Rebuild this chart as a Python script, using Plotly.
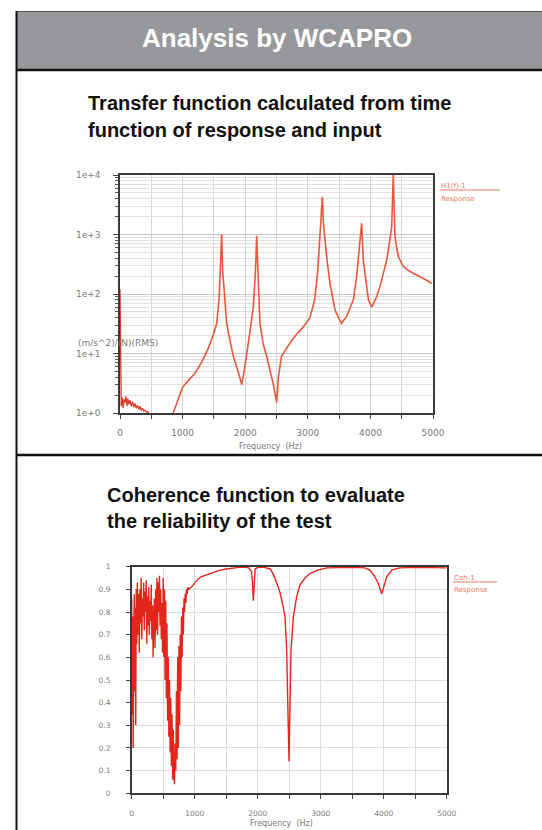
import plotly.graph_objects as go

W, H = 542, 830

# ---------------- data ----------------
header_title = "Analysis by WCAPRO"
section1_lines = ["Transfer function calculated from time", "function of response and input"]
section2_lines = ["Coherence function to evaluate", "the reliability of the test"]

freq_ticks = [0, 1000, 2000, 3000, 4000, 5000]
freq_ticklabels = ["0", "1000", "2000", "3000", "4000", "5000"]

tf_yticks = [1, 10, 100, 1000, 10000]
tf_yticklabels = ["1e+0", "1e+1", "1e+2", "1e+3", "1e+4"]
tf_unit = "(m/s^2)/(N)(RMS)"
tf_legend = ["H1(f)-1", "Response"]

# low-frequency noisy part of transfer function
tf_noise_freq = [0, 8, 20, 35, 50, 65, 80, 95, 110, 125, 140, 160, 180, 200, 220, 240,
                 260, 280, 300, 320, 340, 360, 380, 400, 420, 440, 460]
tf_noise_mag = [120, 1.6, 1.3, 1.8, 1.2, 1.7, 1.5, 1.9, 1.3, 1.75, 1.4, 1.65, 1.3, 1.55, 1.25, 1.45,
                1.2, 1.35, 1.15, 1.3, 1.1, 1.2, 1.08, 1.12, 1.04, 1.05, 1.0]

# main transfer function curve
tf_freq = [850, 900, 1000, 1100, 1200, 1300, 1400, 1480, 1545, 1585, 1605, 1624, 1640, 1670,
           1704, 1760, 1810, 1900, 1944, 1990, 2023, 2080, 2130, 2165, 2183, 2200, 2236, 2290,
           2343, 2400, 2450, 2503, 2530, 2580, 2650, 2716, 2820, 2929, 3035, 3110, 3160, 3200,
           3232, 3250, 3275, 3310, 3355, 3435, 3490, 3540, 3580, 3621, 3680, 3728, 3780, 3834,
           3860, 3887, 3940, 3968, 4020, 4060, 4101, 4153, 4210, 4260, 4310, 4340, 4366, 4380,
           4393, 4420, 4446, 4526, 4600, 4686, 4780, 4846, 4920, 4980]
tf_mag = [1.0, 1.4, 2.7, 3.6, 4.7, 7.0, 11.5, 19, 32, 90, 300, 1000, 250, 80,
          32, 16, 9, 4.5, 3.0, 5.5, 9, 25, 61, 250, 950, 250, 32, 14,
          9, 5, 3, 1.5, 4, 9, 12, 15, 21, 28, 40, 80, 250, 1000,
          4300, 1500, 720, 350, 150, 54, 40, 32, 37, 42, 60, 80, 195, 920,
          1550, 370, 117, 80, 60, 72, 90, 133, 220, 370, 800, 1350, 10000, 3000,
          920, 600, 425, 290, 250, 223, 200, 185, 165, 150]

coh_yticks = [0, 0.1, 0.2, 0.3, 0.4, 0.5, 0.6, 0.7, 0.8, 0.9, 1]
coh_yticklabels = ["0", "0.1", "0.2", "0.3", "0.4", "0.5", "0.6", "0.7", "0.8", "0.9", "1"]
coh_legend = ["Coh-1", "Response"]

coh_freq = [0, 8, 16, 24, 32, 40, 48, 56, 64, 72, 80,
            90, 100, 110, 120, 130, 140, 150, 160, 170, 180,
            190, 200, 210, 220, 230, 240, 250, 260, 270, 280,
            290, 300, 310, 320, 330, 340, 350, 360, 370, 380,
            390, 400, 410, 420, 430, 440, 450, 460, 470, 480,
            490, 500, 510, 520, 530, 540, 550, 560, 570, 580,
            590, 600, 610, 620, 630, 640, 650, 660, 670, 680,
            690, 700, 710, 720, 730, 740, 750, 760, 770, 780,
            790, 800, 810, 820, 830, 840, 850, 860, 870, 880, 890, 900,
            950, 1000, 1050, 1100, 1200, 1300, 1400, 1500, 1600, 1700, 1800, 1860,
            1900, 1915, 1930, 1945, 1960, 2000, 2100, 2200, 2250, 2300, 2350, 2400,
            2433, 2460, 2480, 2497, 2510, 2529, 2566, 2620, 2672, 2750, 2830, 2950,
            3100, 3300, 3500, 3700, 3783, 3850, 3900, 3940, 3968, 4000, 4048, 4127,
            4250, 4500, 4800, 5000]
coh_val = [0.86, 0.35, 0.78, 0.2, 0.62, 0.88, 0.45, 0.82, 0.3, 0.9, 0.66,
           0.93, 0.7, 0.88, 0.62, 0.9, 0.75, 0.95, 0.68, 0.86, 0.78,
           0.93, 0.72, 0.89, 0.8, 0.94, 0.66, 0.87, 0.74, 0.91, 0.7,
           0.85, 0.76, 0.92, 0.68, 0.83, 0.6, 0.78, 0.86, 0.64, 0.9,
           0.72, 0.95, 0.7, 0.93, 0.8, 0.96, 0.74, 0.9, 0.68, 0.84,
           0.62, 0.95, 0.6, 0.9, 0.5, 0.85, 0.42, 0.75, 0.32, 0.6,
           0.25, 0.5, 0.18, 0.42, 0.12, 0.35, 0.06, 0.28, 0.08, 0.04,
           0.22, 0.1, 0.45, 0.15, 0.6, 0.2, 0.65, 0.3, 0.7, 0.45,
           0.78, 0.6, 0.82, 0.7, 0.86, 0.8, 0.88, 0.84, 0.9, 0.88, 0.91, 0.9,
           0.91, 0.93, 0.945, 0.955, 0.965, 0.975, 0.985, 0.99, 0.995, 0.997, 0.997, 0.995,
           0.98, 0.94, 0.85, 0.94, 0.99, 0.997, 0.997, 0.99, 0.965, 0.93, 0.89, 0.83,
           0.78, 0.63, 0.42, 0.14, 0.35, 0.63, 0.78, 0.87, 0.92, 0.95, 0.97, 0.985,
           0.995, 0.997, 0.997, 0.995, 0.985, 0.96, 0.935, 0.905, 0.88, 0.91, 0.955, 0.985,
           0.995, 0.997, 0.997, 0.995]


# ---------------- helpers (pixel -> paper) ----------------
def px(x):
    return min(max(x / W, 0.0), 1.0)


def py(y):
    return min(max(1 - y / H, 0.0), 1.0)


# plot boxes in pixels
P1 = dict(l=120, r=433, t=175, b=413)
P2 = dict(l=131.7, r=446.7, t=566.7, b=793.3)

SMALL = "DejaVu Sans"
TXT_GRAY = "#7a7a7a"

fig = go.Figure()
fig.add_trace(go.Scatter(x=tf_noise_freq, y=tf_noise_mag, mode="lines",
                         line=dict(color="#e23a2a", width=1.3), xaxis="x", yaxis="y",
                         showlegend=False, hoverinfo="skip"))
fig.add_trace(go.Scatter(x=tf_freq, y=tf_mag, mode="lines",
                         line=dict(color="#e8583a", width=1.6), xaxis="x", yaxis="y",
                         showlegend=False))
fig.add_trace(go.Scatter(x=coh_freq, y=coh_val, mode="lines",
                         line=dict(color="#e3261b", width=1.4), xaxis="x2", yaxis="y2",
                         showlegend=False))

axis_common = dict(showline=True, linecolor="#3a3a3a", linewidth=1.5, mirror=True,
                   zeroline=False, fixedrange=True, automargin=False)

fig.update_layout(
    width=W, height=H, autosize=False, showlegend=False,
    margin=dict(l=0, r=0, t=0, b=0, pad=0, autoexpand=False),
    paper_bgcolor="white", plot_bgcolor="white",
    xaxis=dict(domain=[px(P1["l"]), px(P1["r"])], anchor="y", range=[0, 5000],
               tickmode="array", tickvals=freq_ticks, ticktext=freq_ticklabels,
               ticks="outside", ticklen=4, tickcolor="#444", ticklabelstandoff=6,
               showgrid=True, gridcolor="#d6d6d6", gridwidth=1,
               minor=dict(tickmode="linear", tick0=0, dtick=500, showgrid=True,
                          gridcolor="#d6d6d6", ticks="outside", ticklen=4, tickcolor="#444"),
               tickfont=dict(family=SMALL, size=9, color=TXT_GRAY), **axis_common),
    yaxis=dict(domain=[py(P1["b"]), py(P1["t"])], anchor="x", type="log", range=[0, 4],
               tickmode="array", tickvals=tf_yticks, ticktext=tf_yticklabels,
               ticks="outside", ticklen=5, tickcolor="#444", ticklabelstandoff=11,
               showgrid=True, gridcolor="#c4c4c4", gridwidth=1.2,
               minor=dict(tickmode="linear", dtick="D1", showgrid=True, gridcolor="#e0e0e0",
                          ticks="outside", ticklen=3, tickcolor="#555"),
               tickfont=dict(family=SMALL, size=9, color=TXT_GRAY), **axis_common),
    xaxis2=dict(domain=[px(P2["l"]), px(P2["r"])], anchor="y2", range=[0, 5000],
                tickmode="array", tickvals=freq_ticks, ticktext=freq_ticklabels,
                ticks="outside", ticklen=4, tickcolor="#444", ticklabelstandoff=8,
                showgrid=True, gridcolor="#d9dde3",
                minor=dict(tickmode="linear", tick0=0, dtick=500, showgrid=True,
                           gridcolor="#d9dde3", ticks="outside", ticklen=4, tickcolor="#444"),
                tickfont=dict(family=SMALL, size=7.5, color=TXT_GRAY), **axis_common),
    yaxis2=dict(domain=[py(P2["b"]), py(P2["t"])], anchor="x2", range=[0, 1],
                tickmode="array", tickvals=coh_yticks, ticktext=coh_yticklabels,
                ticks="outside", ticklen=4, tickcolor="#444", ticklabelstandoff=14,
                showgrid=True, gridcolor="#d9dde3",
                tickfont=dict(family=SMALL, size=7.5, color=TXT_GRAY), **axis_common),
)

shapes = []
# header box and frame lines
shapes.append(dict(type="rect", xref="paper", yref="paper", x0=px(16), x1=px(542), y0=py(70), y1=py(11),
                   fillcolor="#97989c", line=dict(width=0), layer="below"))
shapes.append(dict(type="line", xref="paper", yref="paper", x0=px(16), x1=px(542), y0=py(11.5), y1=py(11.5),
                   line=dict(color="#555", width=1)))
shapes.append(dict(type="line", xref="paper", yref="paper", x0=px(16), x1=px(542), y0=py(70), y1=py(70),
                   line=dict(color="#111", width=2.5)))
shapes.append(dict(type="line", xref="paper", yref="paper", x0=px(16.5), x1=px(16.5), y0=py(11), y1=py(830),
                   line=dict(color="#111", width=2)))
shapes.append(dict(type="line", xref="paper", yref="paper", x0=px(16), x1=px(542), y0=py(455), y1=py(455),
                   line=dict(color="#111", width=2.5)))
# legend sample lines
shapes.append(dict(type="line", xref="paper", yref="paper", x0=px(440), x1=px(500), y0=py(190), y1=py(190),
                   line=dict(color="#f07a62", width=1.2)))
shapes.append(dict(type="line", xref="paper", yref="paper", x0=px(453), x1=px(497), y0=py(582), y1=py(582),
                   line=dict(color="#f07a62", width=1.2)))
fig.update_layout(shapes=shapes)

ann = []


def add_text(text, x, y, size, color, family, xanchor="left", bold=False):
    t = f"<b>{text}</b>" if bold else text
    ann.append(dict(text=t, x=px(x), y=py(y), xref="paper", yref="paper", showarrow=False,
                    xanchor=xanchor, yanchor="middle",
                    font=dict(size=size, color=color, family=family)))


add_text(header_title, 277, 38, 26, "white", "Liberation Sans, Arial", xanchor="center", bold=True)
add_text(section1_lines[0], 86, 103, 20, "#111", "Liberation Sans, Arial", bold=True)
add_text(section1_lines[1], 86, 130, 20, "#111", "Liberation Sans, Arial", bold=True)
add_text(section2_lines[0], 105, 495, 20, "#111", "Liberation Sans, Arial", bold=True)
add_text(section2_lines[1], 105, 521, 20, "#111", "Liberation Sans, Arial", bold=True)

add_text(tf_unit, 76, 343, 9, TXT_GRAY, SMALL)
add_text("Frequency  (Hz)", 270, 446, 8, TXT_GRAY, SMALL, xanchor="center")
add_text("Frequency  (Hz)", 282, 823, 8, TXT_GRAY, SMALL, xanchor="center")

add_text(tf_legend[0], 439, 186, 7, "#f07a62", SMALL)
add_text(tf_legend[1], 439, 199, 7, "#f07a62", SMALL)
add_text(coh_legend[0], 452, 578, 7, "#f07a62", SMALL)
add_text(coh_legend[1], 452, 590, 7, "#f07a62", SMALL)

fig.update_layout(annotations=ann)

fig.write_html(
    "out.html",
    config={"displayModeBar": False},
    post_script=("document.documentElement.style.overflow='hidden';"
                 "document.body.style.margin='0';document.body.style.overflow='hidden';"),
)
